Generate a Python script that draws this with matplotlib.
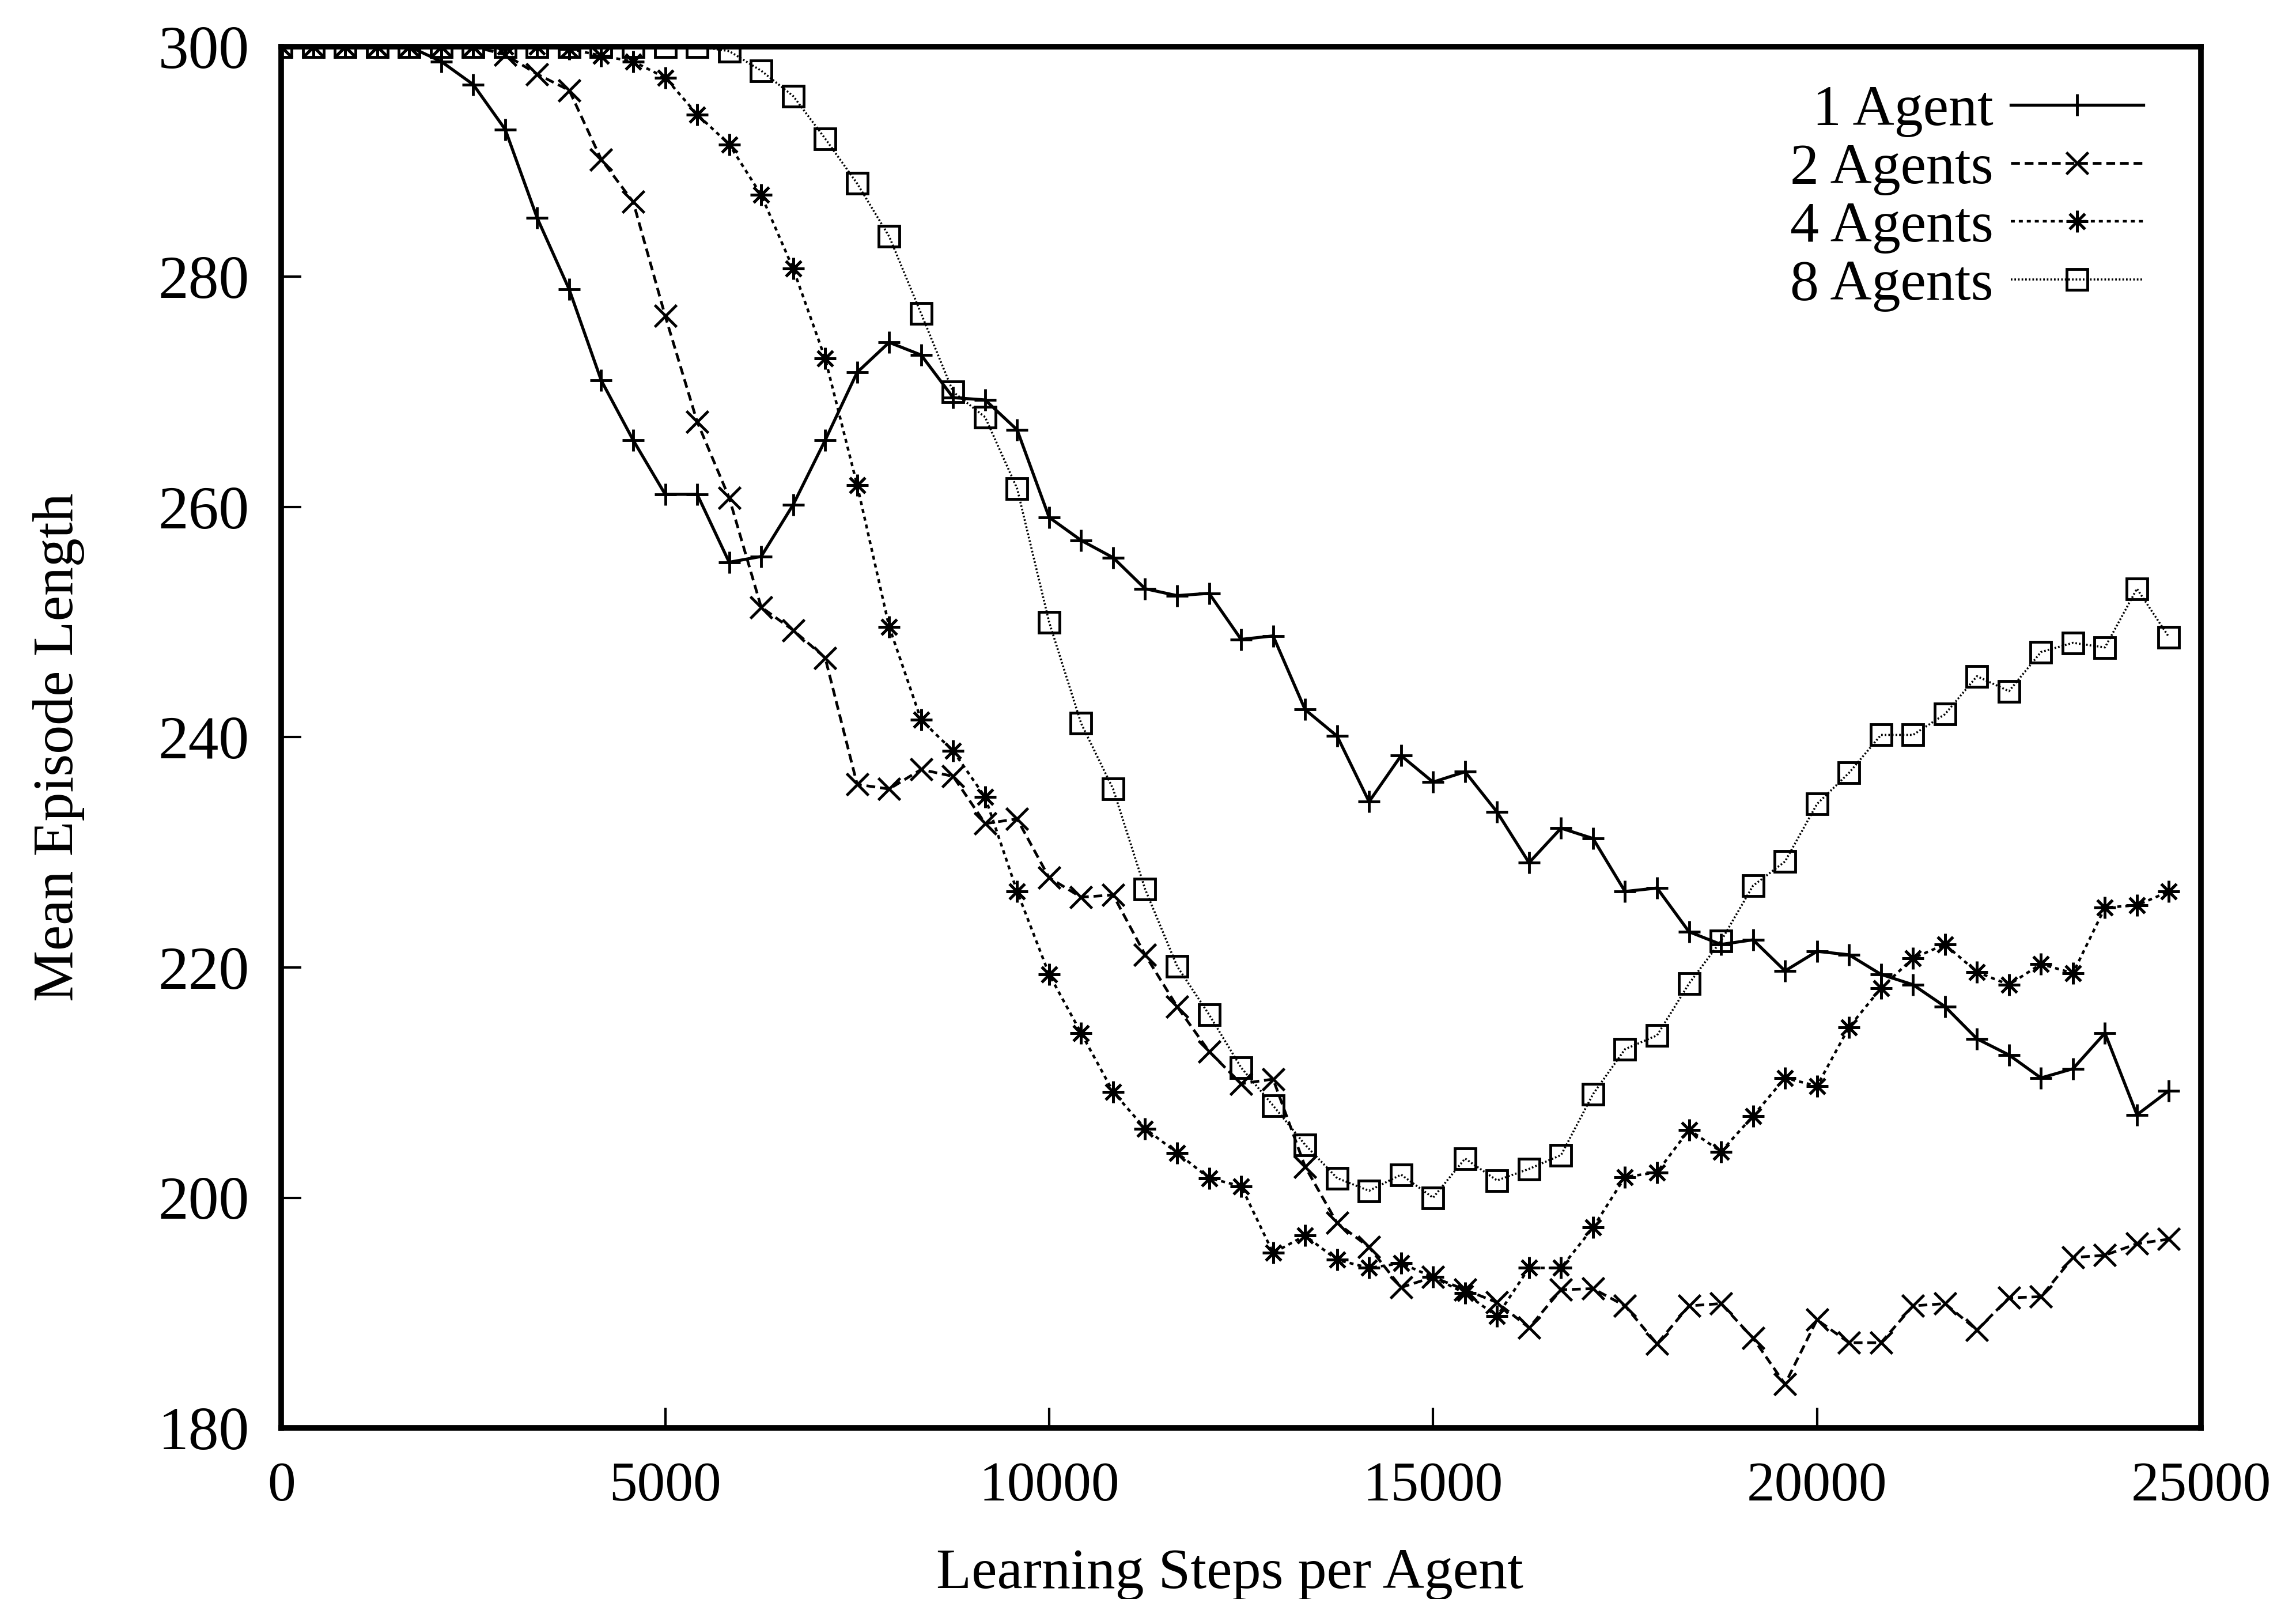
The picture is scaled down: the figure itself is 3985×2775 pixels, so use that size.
import numpy as np
import matplotlib
matplotlib.use("Agg")
import matplotlib.pyplot as plt

plt.rcParams['font.family'] = ['Liberation Serif', 'DejaVu Serif']
plt.rcParams['lines.scale_dashes'] = False

# sample points (60 evaluations over 25000 steps)
steps = np.linspace(0, 25000, 60, endpoint=False)

one_agent = [300, 300, 300, 300, 300, 298.7, 296.7, 292.8, 285.1, 278.9,
             271.0, 265.8, 261.1, 261.1, 255.2, 255.7, 260.2, 265.8, 271.7, 274.3,
             273.2, 269.5, 269.3, 266.7, 259.1, 257.1, 255.6, 252.9, 252.3, 252.5,
             248.5, 248.8, 242.4, 240.1, 234.4, 238.4, 236.1, 237.0, 233.5, 229.1,
             232.1, 231.2, 226.6, 226.9, 223.1, 222.0, 222.4, 219.7, 221.4, 221.1,
             219.4, 218.5, 216.6, 213.8, 212.4, 210.4, 211.2, 214.3, 207.2, 209.3]
two_agents = [300, 300, 300, 300, 300, 300, 300, 299.3, 297.6, 296.2,
              290.2, 286.5, 276.6, 267.4, 260.8, 251.3, 249.3, 246.9, 235.9, 235.5,
              237.2, 236.6, 232.5, 232.9, 227.8, 226.1, 226.3, 221.1, 216.6, 212.7,
              209.9, 210.3, 202.7, 197.8, 195.7, 192.2, 193.1, 192.0, 190.9, 188.7,
              192.0, 192.1, 190.6, 187.3, 190.6, 190.8, 187.8, 183.8, 189.4, 187.4,
              187.4, 190.6, 190.8, 188.5, 191.3, 191.4, 194.8, 195.0, 196.0, 196.4]
four_agents = [300, 300, 300, 300, 300, 300, 300, 300, 300, 299.8,
               299.2, 298.7, 297.3, 294.1, 291.5, 287.1, 280.7, 272.9, 261.9, 249.6,
               241.5, 238.8, 234.8, 226.6, 219.4, 214.3, 209.2, 206.0, 203.9, 201.7,
               201.0, 195.2, 196.7, 194.6, 193.9, 194.3, 193.1, 191.7, 189.7, 193.9,
               193.9, 197.4, 201.8, 202.2, 205.9, 204.0, 207.1, 210.4, 209.7, 214.8,
               218.2, 220.8, 222.0, 219.6, 218.5, 220.3, 219.5, 225.2, 225.4, 226.6]
eight_agents = [300, 300, 300, 300, 300, 300, 300, 300, 300, 300,
                300, 300, 300, 300, 299.6, 297.9, 295.7, 292.0, 288.1, 283.5,
                276.8, 270.0, 267.8, 261.6, 250.0, 241.2, 235.5, 226.8, 220.1, 215.9,
                211.3, 208.0, 204.6, 201.7, 200.6, 202.0, 200.0, 203.4, 201.5, 202.5,
                203.7, 209.0, 212.9, 214.1, 218.6, 222.3, 227.1, 229.2, 234.2, 236.9,
                240.2, 240.2, 242.0, 245.3, 244.0, 247.4, 248.2, 247.8, 252.9, 248.7]

labels = ["1 Agent", "2 Agents", "4 Agents", "8 Agents"]
xticks = [0, 5000, 10000, 15000, 20000, 25000]
yticks = [180, 200, 220, 240, 260, 280, 300]

fig = plt.figure(figsize=(39.85, 27.75), dpi=100)
ax = fig.add_axes([0.1225, 0.107, 0.9586 - 0.1225, 0.9709 - 0.107])

ax.plot(steps, one_agent, color="black", linestyle="solid", linewidth=3.8,
        marker="+", markersize=27, markeredgewidth=3.5, label=labels[0])
ax.plot(steps, two_agents, color="black", linestyle=(0, (11, 6)), linewidth=3.4,
        marker="x", markersize=28, markeredgewidth=3.5, label=labels[1])
ax.plot(steps, four_agents, color="black", linestyle=(0, (5, 5)), linewidth=3.2,
        marker=(8, 2, 0), markersize=27, markeredgewidth=3.5, label=labels[2])
ax.plot(steps, eight_agents, color="black", linestyle=(0, (2, 2.5)), linewidth=2.6,
        marker="s", markersize=26, markeredgewidth=3.5, markerfacecolor="none", label=labels[3])

ax.set_xlim(0, 25000)
ax.set_ylim(180, 300)
ax.set_xticks(xticks)
ax.set_yticks(yticks)
ax.tick_params(axis="both", direction="in", length=25, width=3, labelsize=70)
ax.tick_params(axis="x", pad=42)
ax.tick_params(axis="y", pad=40, labelsize=76)
for s in ax.spines.values():
    s.set_linewidth(7)

ax.set_xlabel("Learning Steps per Agent", fontsize=72, va="center")
ax.xaxis.set_label_coords(0.494, -0.106)
ax.set_ylabel("Mean Episode Length", fontsize=72, va="center", ha="center")
ax.yaxis.set_label_coords(-0.116, 0.493)

ax.legend(loc="upper right", bbox_to_anchor=(1.0, 1.014), frameon=False,
          markerfirst=False, numpoints=1, handlelength=2.3, handletextpad=0.3,
          labelspacing=0.1, fontsize=72, borderaxespad=0.6)

fig.savefig("out.png", dpi=100, facecolor="white")
